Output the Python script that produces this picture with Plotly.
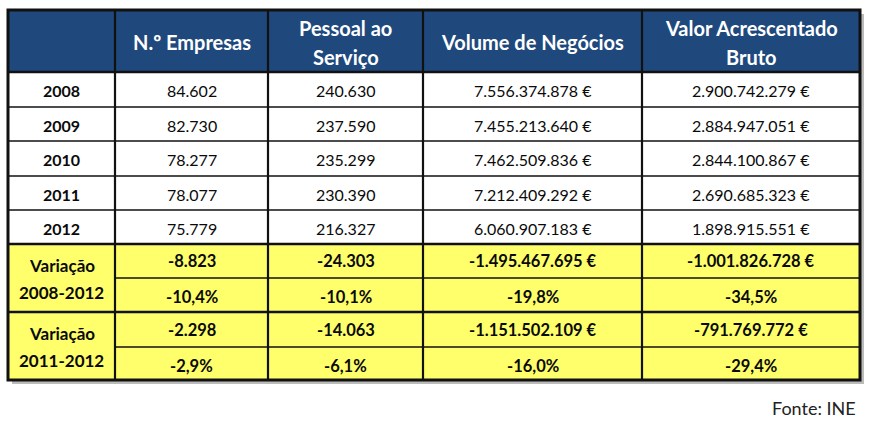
import plotly.graph_objects as go

# ---------------- data ----------------
headers = [["N.º Empresas"], ["Pessoal ao", "Serviço"], ["Volume de Negócios"], ["Valor Acrescentado", "Bruto"]]
years = ["2008", "2009", "2010", "2011", "2012"]
empresas = [84602, 82730, 78277, 78077, 75779]
pessoal = [240630, 237590, 235299, 230390, 216327]
volume = [7556374878, 7455213640, 7462509836, 7212409292, 6060907183]
vab = [2900742279, 2884947051, 2844100867, 2690685323, 1898915551]
var_labels = [["Variação", "2008-2012"], ["Variação", "2011-2012"]]
var_0812_abs = [-8823, -24303, -1495467695, -1001826728]
var_0812_pct = [-10.4, -10.1, -19.8, -34.5]
var_1112_abs = [-2298, -14063, -1151502109, -791769772]
var_1112_pct = [-2.9, -6.1, -16.0, -29.4]
euro_cols = [False, False, True, True]
source = "Fonte: INE"


def fmt_int(v, euro=False):
    s = f"{v:,}".replace(",", ".")
    return s + " €" if euro else s


def fmt_pct(v):
    return f"{v:.1f}".replace(".", ",") + "%"


# ---------------- layout geometry ----------------
col_x = [8, 115, 268, 423, 642, 860]
y_head = (10, 72)
row_y = [72, 107, 141, 176, 210, 244]
var_y = [244, 278, 312, 347, 380]

BLUE = "#1F497D"
YELLOW = "#FFFF6B"
TXT = "#0a0a0a"
FONT = "Lato"
FS = 16

fig = go.Figure()
shapes = []
ann = []


def rect(x0, y0, x1, y1, fill):
    shapes.append(dict(type="rect", xref="x", yref="y", x0=x0, x1=x1, y0=y0, y1=y1,
                       fillcolor=fill, line=dict(width=0), layer="below"))


def line(x0, y0, x1, y1, w):
    shapes.append(dict(type="line", xref="x", yref="y", x0=x0, x1=x1, y0=y0, y1=y1,
                       line=dict(color="#111111", width=w)))


def text(x, y, t, bold=False, color=TXT, size=FS, anchor="center"):
    ann.append(dict(x=x, y=y, xref="x", yref="y", text=f"<b>{t}</b>" if bold else t,
                    showarrow=False, xanchor=anchor, yanchor="middle",
                    font=dict(family=FONT, size=size, color=color)))


# shadow
rect(col_x[0] + 4, y_head[0] + 4, col_x[-1] + 4, var_y[-1] + 4, "#BBBBBB")
# backgrounds
rect(col_x[0], y_head[0], col_x[-1], y_head[1], BLUE)
rect(col_x[0], row_y[0], col_x[-1], row_y[-1], "white")
rect(col_x[0], var_y[0], col_x[-1], var_y[-1], YELLOW)

# header text
for i, h in enumerate(headers):
    cx = (col_x[i + 1] + col_x[i + 2]) / 2
    if len(h) == 1:
        text(cx, sum(y_head) / 2 + 1, h[0], bold=True, color="white", size=20)
    else:
        text(cx, 28, h[0], bold=True, color="white", size=20)
        text(cx, 57, h[1], bold=True, color="white", size=20)

# year rows
cols = [empresas, pessoal, volume, vab]
for r, yr in enumerate(years):
    cy = (row_y[r] + row_y[r + 1]) / 2 + 1
    text((col_x[0] + col_x[1]) / 2, cy, yr, bold=True)
    for c, data in enumerate(cols):
        cx = (col_x[c + 1] + col_x[c + 2]) / 2
        text(cx, cy, fmt_int(data[r], euro_cols[c]))

# variation rows
blocks = [(var_0812_abs, var_0812_pct), (var_1112_abs, var_1112_pct)]
for b, (absv, pctv) in enumerate(blocks):
    y0, ym, y1 = var_y[2 * b], var_y[2 * b + 1], var_y[2 * b + 2]
    lx = (col_x[0] + col_x[1]) / 2
    text(lx, y0 + 21, var_labels[b][0], bold=True, size=17)
    text(lx, y0 + 48, var_labels[b][1], bold=True, size=17)
    for c in range(4):
        cx = (col_x[c + 1] + col_x[c + 2]) / 2
        text(cx, (y0 + ym) / 2, fmt_int(absv[c], euro_cols[c]), bold=True, size=16.5)
        text(cx, (ym + y1) / 2 + 2, fmt_pct(pctv[c]), bold=True, size=16.5)

# grid lines
for y in row_y[1:-1]:
    line(col_x[0], y, col_x[-1], y, 1.3)
for b in range(2):
    ym = var_y[2 * b + 1]
    line(col_x[1], ym, col_x[-1], ym, 1.3)
line(col_x[0], y_head[1], col_x[-1], y_head[1], 2.5)
line(col_x[0], var_y[0], col_x[-1], var_y[0], 2.5)
line(col_x[0], var_y[2], col_x[-1], var_y[2], 2.5)
for x in col_x[1:-1]:
    line(x, y_head[0], x, var_y[-1], 2.2)
# outer border
shapes.append(dict(type="rect", xref="x", yref="y", x0=col_x[0], x1=col_x[-1],
                   y0=y_head[0], y1=var_y[-1], line=dict(color="#111111", width=3)))

text(858, 408, source, color="#222222", size=18, anchor="right")

fig.update_layout(
    width=871, height=425,
    margin=dict(l=0, r=0, t=0, b=0),
    paper_bgcolor="white", plot_bgcolor="white",
    xaxis=dict(range=[0, 871], visible=False, fixedrange=True),
    yaxis=dict(range=[425, 0], visible=False, fixedrange=True),
    shapes=shapes, annotations=ann, showlegend=False,
)
fig.write_html("out.html", config={"displayModeBar": False},
               post_script="document.body.style.margin='0px';document.body.style.overflow='hidden';")
